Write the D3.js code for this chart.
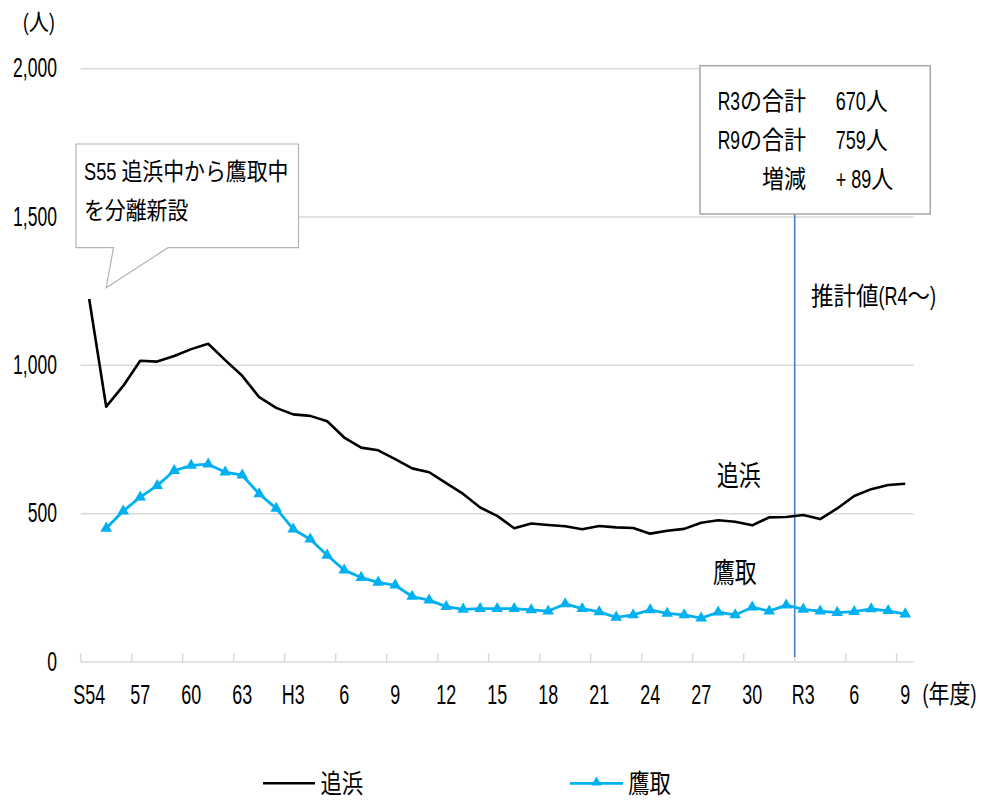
<!DOCTYPE html>
<html><head><meta charset="utf-8">
<script src="https://cdn.jsdelivr.net/npm/d3@7"></script>
<style>body{margin:0;background:#fff}svg{display:block}</style>
</head><body><svg id="c" width="981" height="801"></svg>
<script>
// ---------- data ----------
const categories = ["S54","S55","S56","S57","S58","S59","S60","S61","S62","S63",
  "H1","H2","H3","H4","H5","H6","H7","H8","H9","H10","H11","H12","H13","H14","H15",
  "H16","H17","H18","H19","H20","H21","H22","H23","H24","H25","H26","H27","H28","H29","H30",
  "R1","R2","R3","R4","R5","R6","R7","R8","R9"];
const tickLabels = ["S54","57","60","63","H3","6","9","12","15","18","21","24","27","30","R3","6","9"];
const oppama = [1222,859,929,1014,1011,1030,1053,1071,1016,963,
  891,855,833,828,810,755,721,712,682,651,638,601,565,519,491,
  449,465,460,456,446,457,452,450,431,441,447,468,476,471,459,
  486,487,494,480,516,558,581,595,599];
const takatori = [null,449,507,554,593,643,661,665,638,628,
  565,516,446,412,358,308,283,267,257,219,207,185,176,178,178,
  178,174,170,194,178,167,149,157,174,162,157,146,166,157,183,
  170,190,176,170,165,168,177,171,160];
const yTicks = [0,500,1000,1500,2000];
const seriesNames = ["追浜","鷹取"];
const yUnit = "(人)";
const xUnit = "(年度)";
const calloutLines = ["S55 追浜中から鷹取中","を分離新設"];
const summaryLabels = ["R3の合計","R9の合計","増減"];
const summaryValues = ["670人","759人","+ 89人"];
const estimateLabel = "推計値(R4～)";
const estimateStart = "R3";

// ---------- setup ----------
const svg = d3.select("#c");
const LATIN = "'Liberation Sans',Arial,sans-serif";
const CJK = "'Noto Sans CJK JP','Noto Sans CJK SC',sans-serif";
const x = d3.scaleBand().domain(categories).range([80.7, 913.7]).padding(0);
const y = d3.scaleLinear().domain([0, 2000]).range([661.5, 68.2]);
const cx = c => x(c) + x.bandwidth() / 2;
const GRID = "#d9d9d9";
const BLUE = "#00b0f0";

// text split into Latin / CJK runs, each condensed separately
const isCJK = ch => /[\u3000-\u9fff\uff00-\uffef]/.test(ch);
function rich(parent, s, px, py, size, sxL, sxC, anchor) {
  const g = parent.append("g");
  const runs = [];
  for (const ch of s) {
    const c = isCJK(ch);
    if (runs.length && runs[runs.length - 1].c === c) runs[runs.length - 1].t += ch;
    else runs.push({c, t: ch});
  }
  let off = 0;
  runs.forEach(r => {
    const sx = r.c ? sxC : sxL;
    const t = g.append("text").attr("transform", `translate(${off},0) scale(${sx},1)`)
      .attr("font-size", size).attr("font-family", r.c ? CJK : LATIN)
      .attr("fill", "#000").attr("xml:space", "preserve").style("white-space", "pre").text(r.t);
    off += t.node().getComputedTextLength() * sx;
  });
  const shift = anchor === "end" ? -off : anchor === "middle" ? -off / 2 : 0;
  g.attr("transform", `translate(${px + shift},${py})`);
  return g;
}

// ---------- y axis + gridlines ----------
const yAx = svg.append("g").attr("transform", "translate(80.7,0)")
  .call(d3.axisLeft(y).tickValues(yTicks).tickFormat(d3.format(",")).tickSize(-(913.7 - 80.7)).tickPadding(36.5));
yAx.select(".domain").remove();
yAx.selectAll(".tick line").attr("stroke", GRID).attr("stroke-width", 1.5);
yAx.selectAll(".tick text").attr("font-size", 27).attr("font-family", LATIN)
  .attr("fill", "#000").attr("transform", "scale(0.65,1)");

// ---------- x axis ----------
const xAx = svg.append("g").attr("transform", "translate(0,661.5)")
  .call(d3.axisBottom(x).tickValues(categories.filter((d, i) => i % 3 === 0))
    .tickFormat((d, i) => tickLabels[i]).tickSize(0).tickPadding(22.6));
xAx.select(".domain").remove();
xAx.selectAll(".tick text").attr("font-size", 28).attr("font-family", LATIN)
  .attr("fill", "#000").attr("transform", "scale(0.64,1)");
svg.append("g").selectAll("line").data(categories.filter((d, i) => i % 3 === 0))
  .join("line").attr("x1", d => x(d)).attr("x2", d => x(d))
  .attr("y1", 661.5).attr("y2", 653.5).attr("stroke", GRID).attr("stroke-width", 1.5);

rich(svg, xUnit, 922.5, 703, 25, 0.72, 0.84, "start");
rich(svg, yUnit, 23, 30, 23, 0.75, 0.88, "start");

// ---------- estimate line ----------
svg.append("line").attr("x1", x(estimateStart)).attr("x2", x(estimateStart))
  .attr("y1", 214).attr("y2", 657).attr("stroke", "#4a7ebb").attr("stroke-width", 1.6);
rich(svg, estimateLabel, 811, 305, 25, 0.72, 0.9, "start");

// ---------- series ----------
const line = d3.line().defined(d => d.v != null).x(d => cx(d.c)).y(d => y(d.v));
svg.append("path").datum(categories.map((c, i) => ({c, v: oppama[i]})))
  .attr("d", line).attr("fill", "none").attr("stroke", "#000").attr("stroke-width", 2.6)
  .attr("stroke-linejoin", "round");
const tk = categories.map((c, i) => ({c, v: takatori[i]}));
svg.append("path").datum(tk).attr("d", line).attr("fill", "none").attr("stroke", BLUE)
  .attr("stroke-width", 2.8).attr("stroke-linejoin", "round");
const tri = d3.symbol().type(d3.symbolTriangle).size(58);
svg.append("g").selectAll("path").data(tk.filter(d => d.v != null)).join("path")
  .attr("d", tri).attr("transform", d => `translate(${cx(d.c)},${y(d.v)})`).attr("fill", BLUE);

// series labels
rich(svg, seriesNames[0], 717, 486, 28, 0.78, 0.78, "start");
rich(svg, seriesNames[1], 713, 583, 28, 0.78, 0.78, "start");

// ---------- callout ----------
const tipX = cx("S55"), tipY = 287.7;
svg.append("path")
  .attr("d", `M76,144 H298.5 V247.7 H168 L${tipX},${tipY} L113.5,247.7 H76 Z`)
  .attr("fill", "#fff").attr("stroke", "#b3b3b3").attr("stroke-width", 1.2);
rich(svg, calloutLines[0], 84, 180, 24, 0.76, 0.87, "start");
rich(svg, calloutLines[1], 84, 219, 24, 0.76, 0.87, "start");

// ---------- summary box ----------
svg.append("rect").attr("x", 700).attr("y", 65.7).attr("width", 230.3).attr("height", 148.3)
  .attr("fill", "#fff").attr("stroke", "#a6a6a6").attr("stroke-width", 1.5);
const rowsY = [110, 149, 188];
summaryLabels.forEach((s, i) => rich(svg, s, 806, rowsY[i], 25, 0.7, 0.88, "end"));
summaryValues.forEach((s, i) => rich(svg, s, 835.7, rowsY[i], 25, 0.72, 0.88, "start"));

// ---------- legend ----------
const lg = svg.append("g");
lg.append("line").attr("x1", 263).attr("x2", 315).attr("y1", 783.3).attr("y2", 783.3)
  .attr("stroke", "#000").attr("stroke-width", 2.6);
rich(lg, seriesNames[0], 320.5, 792.5, 26, 0.82, 0.82, "start");
lg.append("line").attr("x1", 570).attr("x2", 623).attr("y1", 783.3).attr("y2", 783.3)
  .attr("stroke", BLUE).attr("stroke-width", 2.8);
lg.append("path").attr("d", d3.symbol().type(d3.symbolTriangle).size(45))
  .attr("transform", "translate(596.5,782.5)").attr("fill", BLUE);
rich(lg, seriesNames[1], 628.3, 792.5, 26, 0.82, 0.82, "start");
</script></body></html>
